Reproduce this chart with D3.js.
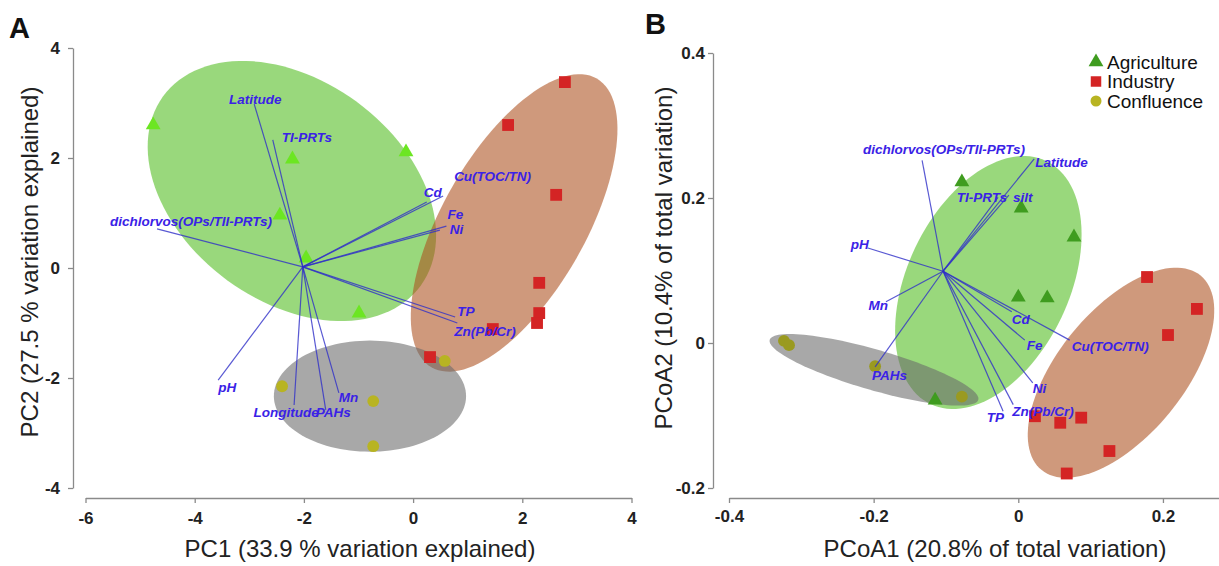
<!DOCTYPE html>
<html>
<head>
<meta charset="utf-8">
<script src="https://cdn.jsdelivr.net/npm/d3@7"></script>
<style>
  body { margin: 0; background: #fff; }
  svg { font-family: "Liberation Sans", Arial, sans-serif; }
  .axis path, .axis line { stroke: #8a8a8a; stroke-width: 1.3; }
  .axis text { font-size: 17px; font-weight: bold; fill: #222; }
  .vlab { font-size: 13.5px; font-weight: bold; font-style: italic; fill: #3a22e6; }
</style>
</head>
<body>
<div id="chart"></div>
<script>
// ---- panel A : PCA scores ----
var pcaAgri = [[-4.76, 2.60], [-2.21, 1.98], [-0.13, 2.11], [-2.44, 0.96], [-1.96, 0.18], [-0.99, -0.82]];
var pcaIndu = [[2.78, 3.38], [1.74, 2.60], [2.62, 1.33], [2.31, -0.27], [2.31, -0.82], [2.27, -1.00], [1.46, -1.11], [0.31, -1.62]];
var pcaConf = [[0.58, -1.69], [-2.40, -2.15], [-0.73, -2.42], [-0.73, -3.24]];

// biplot vectors (origin + end points)
var pcaOrigin = [-2.02, 0.02];
var pcaVarNames = ["Latitude", "TI-PRTs", "dichlorvos(OPs/TII-PRTs)", "Cd", "Cu(TOC/TN)", "Fe", "Ni", "TP", "Zn(Pb/Cr)", "pH", "Longitude", "PAHs", "Mn"];
var pcaVarEnds = [[-2.91, 2.98], [-2.57, 2.33], [-4.69, 0.71], [0.25, 1.20], [0.55, 1.31], [0.61, 0.76], [0.49, 0.69], [0.77, -0.89], [0.81, -1.00], [-3.57, -2.04], [-2.18, -2.49], [-1.60, -2.58], [-1.36, -2.27]];

// group ellipses: [cx, cy, semi-major, semi-minor, angle deg]
var pcaEllAgri = [-2.22, 1.40, 2.92, 2.01, -36];
var pcaEllIndu = [1.85, 0.82, 3.03, 1.31, 60];
var pcaEllConf = [-0.79, -2.33, 1.76, 1.01, 0];

var pcaTicksX = [-6, -4, -2, 0, 2, 4];
var pcaTicksY = [-4, -2, 0, 2, 4];

// ---- panel B : PCoA scores ----
var pcoaAgri = [[-0.078, 0.222], [0.004, 0.186], [0.077, 0.146], [0.000, 0.063], [0.040, 0.062], [-0.115, -0.079]];
var pcoaIndu = [[0.178, 0.091], [0.247, 0.047], [0.207, 0.011], [0.023, -0.101], [0.058, -0.110], [0.087, -0.103], [0.126, -0.149], [0.067, -0.180]];
var pcoaConf = [[-0.324, 0.003], [-0.317, -0.003], [-0.198, -0.032], [-0.078, -0.074]];

var pcoaOrigin = [-0.104, 0.099];
var pcoaVarNames = ["dichlorvos(OPs/TII-PRTs)", "Latitude", "TI-PRTs", "silt", "pH", "Mn", "PAHs", "Cd", "Fe", "Cu(TOC/TN)", "Ni", "Zn(Pb/Cr)", "TP"];
var pcoaVarEnds = [[-0.133, 0.252], [0.022, 0.254], [-0.028, 0.201], [-0.013, 0.204], [-0.208, 0.131], [-0.183, 0.057], [-0.198, -0.033], [-0.009, 0.043], [0.009, 0.004], [0.071, 0.004], [0.020, -0.055], [-0.007, -0.085], [-0.021, -0.094]];

var pcoaEllAgri = [-0.0414, 0.0834, 0.1858, 0.112, 64.5];
var pcoaEllIndu = [0.142, -0.041, 0.1734, 0.0869, 50.6];
var pcoaEllConf = [-0.1995, -0.037, 0.150, 0.028, -16];

var pcoaTicksX = [-0.4, -0.2, 0, 0.2];
var pcoaTicksY = [-0.2, 0, 0.2, 0.4];

var groups = ["Agriculture", "Industry", "Confluence"];

// label placement (pixels from vector end): [dx, dy, anchor]
var labA = {
  "Latitude": [1, 0, "middle"], "TI-PRTs": [9, 2, "start"], "dichlorvos(OPs/TII-PRTs)": [34, -3, "middle"],
  "Cd": [-3, -5, "start"], "Cu(TOC/TN)": [11, -15, "start"], "Fe": [1, -7, "start"], "Ni": [10, 4, "start"],
  "TP": [2, -1, "start"], "Zn(Pb/Cr)": [-3, 13, "start"], "pH": [0, 12, "start"],
  "Longitude": [-8, 12, "middle"], "PAHs": [-10, 7, "start"], "Mn": [0, 9, "start"]
};
var labB = {
  "dichlorvos(OPs/TII-PRTs)": [22, -6, "middle"], "Latitude": [1, 8, "start"], "TI-PRTs": [9, 5, "end"],
  "silt": [4, 7, "start"], "pH": [1, 1, "end"], "Mn": [2, 8, "end"], "PAHs": [-3, 13, "start"],
  "Cd": [0, 12, "start"], "Fe": [2, 10, "start"], "Cu(TOC/TN)": [2, 11, "start"], "Ni": [0, 10, "start"],
  "Zn(Pb/Cr)": [-1, 11, "start"], "TP": [1, 11, "end"]
};

var W = 1219, H = 566;
var svg = d3.select("#chart").append("svg").attr("width", W).attr("height", H);

var ellFill = ["#50bc1e", "#ac501e", "#696969"];

function ellipsePath(e, xs, ys) {
  var a = e[4] * Math.PI / 180;
  var pts = d3.range(0, 121).map(function (i) {
    var t = i / 120 * 2 * Math.PI;
    var u = e[2] * Math.cos(t), v = e[3] * Math.sin(t);
    return [xs(e[0] + u * Math.cos(a) - v * Math.sin(a)), ys(e[1] + u * Math.sin(a) + v * Math.cos(a))];
  });
  return d3.line()(pts) + "Z";
}

// plain hyphen for negatives, like the original figure
var fmt = function (d) { return String(d); };

function drawPanel(o) {
  var xs = d3.scaleLinear().domain(o.xDom).range(o.xRange);
  var ys = d3.scaleLinear().domain(o.yDom).range(o.yRange);
  var g = svg.append("g");

  // axes
  g.append("g").attr("class", "axis")
    .attr("transform", "translate(0," + o.xAxisY + ")")
    .call(d3.axisBottom(xs).tickValues(o.ticksX).tickSize(5).tickSizeOuter(0).tickPadding(o.padX).tickFormat(fmt));
  g.append("g").attr("class", "axis")
    .attr("transform", "translate(" + o.yAxisX + ",0)")
    .call(d3.axisLeft(ys).tickValues(o.ticksY).tickSize(5).tickSizeOuter(0).tickPadding(o.padY).tickFormat(fmt));

  // ellipses
  g.selectAll(".ell").data(o.ells).enter().append("path")
    .attr("d", function (e) { return ellipsePath(e, xs, ys); })
    .attr("fill", function (e, i) { return ellFill[i]; })
    .attr("fill-opacity", 0.58)
    .attr("stroke", "none");

  // points
  var sym = [d3.symbolTriangle, d3.symbolSquare, d3.symbolCircle];
  var sz = [95, 140, 110];
  o.pts.forEach(function (arr, gi) {
    g.selectAll(".p" + gi).data(arr).enter().append("path")
      .attr("transform", function (d) { return "translate(" + xs(d[0]) + "," + ys(d[1]) + ")"; })
      .attr("d", d3.symbol().type(sym[gi]).size(sz[gi]))
      .attr("fill", o.ptCol[gi]);
  });

  // vectors
  g.selectAll(".vec").data(o.ends).enter().append("line")
    .attr("x1", xs(o.origin[0])).attr("y1", ys(o.origin[1]))
    .attr("x2", function (d) { return xs(d[0]); })
    .attr("y2", function (d) { return ys(d[1]); })
    .attr("stroke", "#2f2fc8").attr("stroke-opacity", 0.8).attr("stroke-width", 1.2);

  g.selectAll(".vlab").data(o.names).enter().append("text")
    .attr("class", "vlab")
    .attr("x", function (d, i) { return xs(o.ends[i][0]) + o.lab[d][0]; })
    .attr("y", function (d, i) { return ys(o.ends[i][1]) + o.lab[d][1]; })
    .attr("text-anchor", function (d) { return o.lab[d][2]; })
    .text(function (d) { return d; });

  // titles
  g.append("text").attr("x", o.titleX[0]).attr("y", o.titleX[1])
    .attr("text-anchor", "middle").attr("font-size", 24).attr("fill", "#222").text(o.xTitle);
  g.append("text").attr("transform", "translate(" + o.titleY[0] + "," + o.titleY[1] + ") rotate(-90)")
    .attr("text-anchor", "middle").attr("font-size", 24).attr("fill", "#222").text(o.yTitle);
  g.append("text").attr("x", o.letter[0]).attr("y", o.letter[1])
    .attr("font-size", 29).attr("font-weight", "bold").attr("fill", "#111").text(o.letter[2]);
  return { xs: xs, ys: ys };
}

drawPanel({
  xDom: [-6, 4], xRange: [85.5, 631.5], yDom: [-4, 4], yRange: [488, 48],
  xAxisY: 498, yAxisX: 73, padX: 9, padY: 8,
  ticksX: pcaTicksX, ticksY: pcaTicksY,
  ells: [pcaEllAgri, pcaEllIndu, pcaEllConf],
  pts: [pcaAgri, pcaIndu, pcaConf], ptCol: ["#6ce622", "#d42424", "#b8b422"],
  origin: pcaOrigin, ends: pcaVarEnds, names: pcaVarNames, lab: labA,
  xTitle: "PC1 (33.9 % variation explained)", titleX: [360, 557],
  yTitle: "PC2 (27.5 % variation explained)", titleY: [38, 262],
  letter: [9, 38, "A"]
});

drawPanel({
  xDom: [-0.4, 0.28], xRange: [729, 1220.8], yDom: [-0.2, 0.4], yRange: [488, 53],
  xAxisY: 498, yAxisX: 713, padX: 7, padY: 3,
  ticksX: pcoaTicksX, ticksY: pcoaTicksY,
  ells: [pcoaEllAgri, pcoaEllIndu, pcoaEllConf],
  pts: [pcoaAgri, pcoaIndu, pcoaConf], ptCol: ["#3f9c1f", "#d42424", "#9a9a20"],
  origin: pcoaOrigin, ends: pcoaVarEnds, names: pcoaVarNames, lab: labB,
  xTitle: "PCoA1 (20.8% of total variation)", titleX: [995, 557],
  yTitle: "PCoA2 (10.4% of total variation)", titleY: [672, 258],
  letter: [645, 34, "B"]
});

// legend
var legCol = ["#3f9c1f", "#d42424", "#b8b422"];
var legSym = [d3.symbolTriangle, d3.symbolSquare, d3.symbolCircle];
var leg = svg.append("g").attr("transform", "translate(1096,62)");
groups.forEach(function (name, i) {
  leg.append("path").attr("transform", "translate(0," + (i * 19.5) + ")")
    .attr("d", d3.symbol().type(legSym[i]).size(i == 1 ? 110 : 95)).attr("fill", legCol[i]);
  leg.append("text").attr("x", 11).attr("y", i * 19.5).attr("dy", "0.35em")
    .attr("font-size", 19).attr("fill", "#111").text(name);
});
</script>
</body>
</html>
